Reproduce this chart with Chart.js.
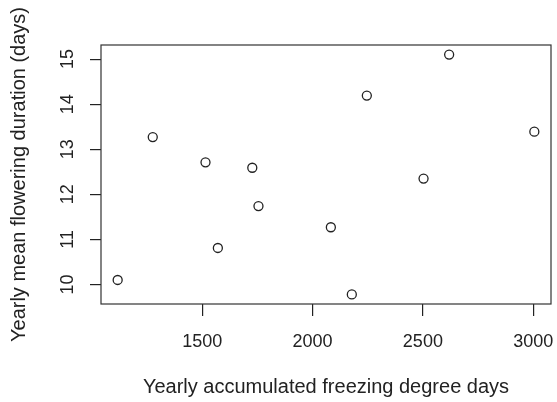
<html>
<head>
	<title>Flowering duration vs freezing degree days</title>
	<script src="https://cdn.jsdelivr.net/npm/chart.js@4/dist/chart.umd.min.js"></script>
	<style>
		body { margin: 0; background: #fff; }
	</style>
	<script>
		var freezingDays = [1117, 1276, 1515, 1571, 1727, 1755, 2083, 2178, 2246, 2503, 2619, 3005];
		var floweringDuration = [10.10, 13.27, 12.71, 10.81, 12.59, 11.74, 11.27, 9.78, 14.19, 12.35, 15.10, 13.39];
		var xTicks = [1500, 2000, 2500, 3000];
		var yTicks = [10, 11, 12, 13, 14, 15];

		// R style axis limits: data range stretched by 4% on each side
		function rRange(values) {
			var lo = Math.min.apply(null, values), hi = Math.max.apply(null, values);
			var pad = (hi - lo) * 0.04;
			return [lo - pad, hi + pad];
		}

		var ink = '#222';
		var tickFont = { family: 'Liberation Sans, Arial, sans-serif', size: 18 };
		var titleFont = { family: 'Liberation Sans, Arial, sans-serif', size: 20 };

		var boxPlugin = {
			id: 'box',
			afterDraw: function(chart) {
				var a = chart.chartArea, ctx = chart.ctx;
				ctx.save();
				ctx.strokeStyle = '#333';
				ctx.lineWidth = 1.2;
				ctx.strokeRect(a.left, a.top, a.right - a.left, a.bottom - a.top);
				ctx.restore();
			}
		};

		function plain(v) { return String(v); }

		function start() {
			var points = freezingDays.map(function(x, i) {
				return { x: x, y: floweringDuration[i] };
			});
			var xr = rRange(freezingDays), yr = rRange(floweringDuration);

			new Chart(document.getElementById('plot'), {
				type: 'scatter',
				data: {
					datasets: [{
						data: points,
						pointStyle: 'circle',
						pointRadius: 4.5,
						pointHoverRadius: 4.5,
						pointBorderWidth: 1.3,
						borderColor: ink,
						backgroundColor: 'rgba(0,0,0,0)'
					}]
				},
				options: {
					responsive: false,
					animation: false,
					events: [],
					layout: { padding: { top: 45, right: 6, left: 0, bottom: 0 } },
					plugins: { legend: { display: false }, tooltip: { enabled: false } },
					scales: {
						x: {
							type: 'linear',
							min: xr[0],
							max: xr[1],
							afterBuildTicks: function(s) { s.ticks = xTicks.map(function(v) { return { value: v }; }); },
							afterFit: function(s) { s.height = 98; s.paddingLeft = 0; s.paddingRight = 0; },
							border: { display: false },
							grid: { drawOnChartArea: false, drawTicks: true, tickLength: 12, color: ink, lineWidth: 1.2 },
							ticks: { color: ink, font: tickFont, padding: 15, maxRotation: 0, minRotation: 0, callback: plain },
							title: { display: true, text: 'Yearly accumulated freezing degree days', color: ink, font: titleFont, padding: { top: 0, bottom: 3 } }
						},
						y: {
							type: 'linear',
							min: yr[0],
							max: yr[1],
							afterBuildTicks: function(s) { s.ticks = yTicks.map(function(v) { return { value: v }; }); },
							afterFit: function(s) { s.width = 101; s.paddingTop = 0; s.paddingBottom = 0; },
							border: { display: false },
							grid: { drawOnChartArea: false, drawTicks: true, tickLength: 11, color: ink, lineWidth: 1.2 },
							ticks: { color: ink, font: tickFont, padding: 12, minRotation: 90, crossAlign: 'center', callback: plain },
							title: { display: true, text: 'Yearly mean flowering duration (days)', color: ink, font: titleFont, padding: { top: 7, bottom: 0 } }
						}
					}
				},
				plugins: [boxPlugin]
			});
		}
	</script>
</head>
<body onload="start()">
	<canvas id="plot" width="557" height="402"></canvas>
</body>
</html>
